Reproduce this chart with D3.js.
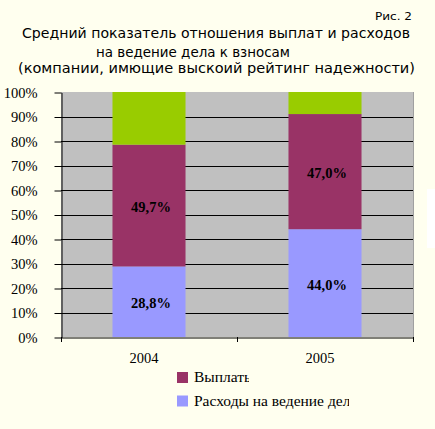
<!DOCTYPE html>
<html><head><meta charset="utf-8">
<script src="https://cdn.jsdelivr.net/npm/d3@7"></script>
<style>html,body{margin:0;padding:0;background:#FFFFEF;}svg{display:block;}</style>
</head><body>
<svg id="c" width="435" height="429"></svg>
<script>
const years = ["2004", "2005"];
const expenses = [28.8, 44.0];   // Расходы на ведение дела
const payouts = [49.7, 47.0];    // Выплаты
const other = [21.5, 9.0];       // remainder (no legend)
const yTicks = [0,10,20,30,40,50,60,70,80,90,100];
const titleLines = ["Средний показатель отношения выплат и расходов", "на ведение дела к взносам", "(компании, имющие выскоий рейтинг надежности)"];
const figLabel = "Рис. 2";
const legendNames = ["Выплаты", "Расходы на ведение дела"];

const svg = d3.select("#c");
const W = 435, H = 429;
svg.append("rect").attr("width", W).attr("height", H).attr("fill", "#FFFFEF");

const m = {l: 61, r: 413, t: 92, b: 337};
const x = d3.scaleBand().domain(years).range([m.l, m.r]).paddingInner(0.585).paddingOuter(0.2925);
const xb = d3.scaleBand().domain(years).range([m.l, m.r]);
const y = d3.scaleLinear().domain([0, 100]).range([m.b, m.t]);

// faint white box on the right
svg.append("rect").attr("x", 427).attr("y", 189).attr("width", 10).attr("height", 59).attr("fill", "#FFFFFF");

// plot area
svg.append("rect").attr("x", m.l).attr("y", m.t).attr("width", m.r - m.l).attr("height", m.b - m.t).attr("fill", "#C0C0C0");
svg.append("line").attr("x1", m.r + 0.5).attr("x2", m.r + 0.5).attr("y1", m.t).attr("y2", m.b).attr("stroke", "#A0A0A0");

// gridlines
svg.append("g").selectAll("line").data(yTicks.filter(d => d > 0 && d < 100)).join("line")
  .attr("x1", m.l).attr("x2", m.r)
  .attr("y1", d => Math.round(y(d)) + 0.5).attr("y2", d => Math.round(y(d)) + 0.5)
  .attr("stroke", "#000").attr("stroke-width", 1);

// stacked data
const rows = years.map((yr, i) => ({year: yr, expenses: expenses[i], payouts: payouts[i], other: other[i]}));
const keys = ["expenses", "payouts", "other"];
const colors = {expenses: "#9999FF", payouts: "#993366", other: "#99CC00"};
const stack = d3.stack().keys(keys)(rows);

svg.append("g").selectAll("g").data(stack).join("g")
  .attr("fill", s => colors[s.key])
  .selectAll("rect").data(s => s).join("rect")
  .attr("x", d => x(d.data.year))
  .attr("width", x.bandwidth())
  .attr("y", d => y(d[1]))
  .attr("height", d => y(d[0]) - y(d[1]));

// data labels
const fmt = v => v.toFixed(1).replace(".", ",") + "%";
svg.append("g").selectAll("g").data(stack.filter(s => s.key !== "other")).join("g")
  .selectAll("text").data(s => s.map(d => ({d, key: s.key}))).join("text")
  .attr("x", o => x(o.d.data.year) + x.bandwidth() / 2 + 2)
  .attr("y", o => (y(o.d[0]) + y(o.d[1])) / 2)
  .attr("dy", "0.45em")
  .attr("text-anchor", "middle")
  .attr("font-family", "'Liberation Serif', 'Times New Roman', serif")
  .attr("font-weight", "bold").attr("font-size", 14.5).attr("fill", "#000")
  .text(o => fmt(o.d.data[o.key]));

// y axis
const yAxis = d3.axisLeft(y).tickValues(yTicks).tickFormat(d => d + "%").tickSize(7).tickSizeOuter(0);
const ga = svg.append("g").attr("transform", `translate(${m.l + 0.5},0.5)`).call(yAxis);
ga.select(".domain").attr("stroke", "#000");
ga.selectAll(".tick line").attr("stroke", "#000");
ga.selectAll(".tick text").attr("x", -24).attr("text-anchor", "end")
  .attr("font-family", "'Liberation Serif', 'Times New Roman', serif").attr("font-size", 14.5).attr("fill", "#000");

// x axis
const xAxis = d3.axisBottom(xb).tickSize(0).tickSizeOuter(0);
const gx = svg.append("g").attr("transform", `translate(0,${m.b + 0.5})`).call(xAxis);
gx.select(".domain").attr("stroke", "#000");
gx.selectAll(".tick text").attr("dx", -5).attr("y", 15).attr("dy", "0.71em")
  .attr("font-family", "'Liberation Serif', 'Times New Roman', serif").attr("font-size", 14.5).attr("fill", "#000");
// category separator ticks
const sepTicks = [m.l, xb(years[1]), m.r];
svg.append("g").selectAll("line").data(sepTicks).join("line")
  .attr("x1", d => Math.round(d) + 0.5).attr("x2", d => Math.round(d) + 0.5)
  .attr("y1", m.b).attr("y2", m.b + 5).attr("stroke", "#000");

// legend
const legend = [{name: legendNames[0], color: colors.payouts, clip: 249}, {name: legendNames[1], color: colors.expenses, clip: 349}];
const defs = svg.append("defs");
legend.forEach((L, i) => {
  const yy = 372 + i * 23.5;
  defs.append("clipPath").attr("id", "lc" + i).append("rect").attr("x", 190).attr("y", yy - 10).attr("width", L.clip - 190).attr("height", 30);
  svg.append("rect").attr("x", 177).attr("y", yy).attr("width", 11).attr("height", 11).attr("fill", L.color);
  svg.append("text").attr("x", 194).attr("y", yy + 10).attr("clip-path", `url(#lc${i})`)
    .attr("font-family", "'Liberation Serif', 'Times New Roman', serif").attr("font-size", 15.5).attr("fill", "#000")
    .text(L.name);
});

// title
const tpos = [{x: 22, y: 37.5, len: 388}, {x: 96, y: 56.5, len: 194}, {x: 18, y: 72.5, len: 397}];
titleLines.forEach((t, i) => {
  svg.append("text").attr("x", tpos[i].x).attr("y", tpos[i].y)
    .attr("textLength", tpos[i].len).attr("lengthAdjust", "spacingAndGlyphs")
    .attr("font-family", "'DejaVu Sans', Verdana, sans-serif").attr("font-size", 14).attr("fill", "#000")
    .text(t);
});
svg.append("text").attr("x", 375).attr("y", 20).attr("textLength", 37).attr("lengthAdjust", "spacingAndGlyphs")
  .attr("font-family", "'DejaVu Sans', Verdana, sans-serif").attr("font-size", 11).attr("fill", "#000")
  .text(figLabel);
</script>
</body></html>
